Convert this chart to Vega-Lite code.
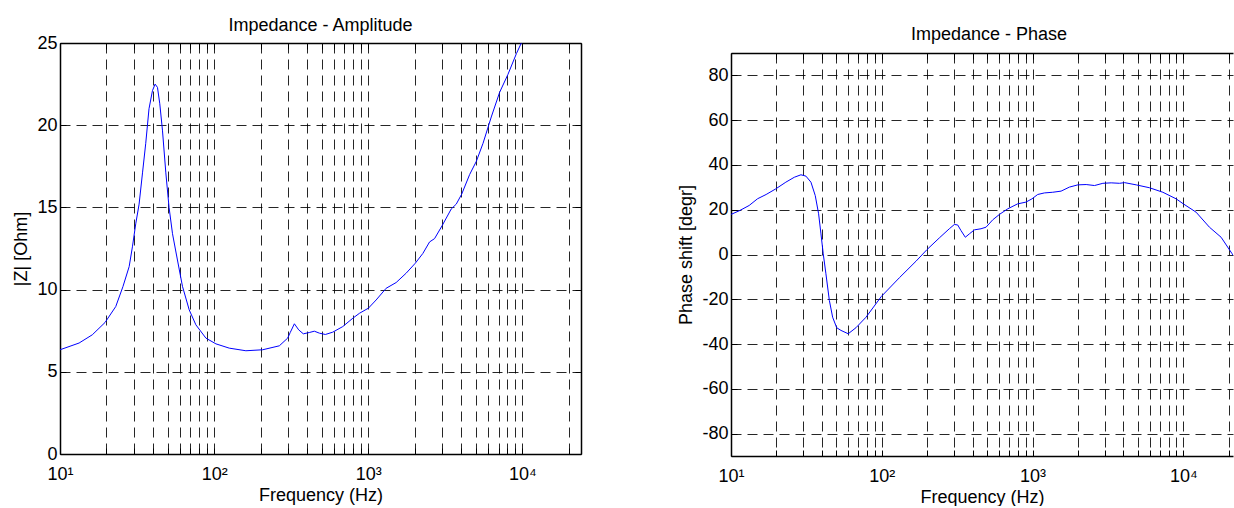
{
  "$schema": "https://vega.github.io/schema/vega-lite/v6.json",
  "padding": {"left": 12, "top": 16, "right": 0, "bottom": 0},
  "spacing": 95,
  "config": {
    "font": "Liberation Sans",
    "view": {"stroke": null},
    "title": {"fontSize": 18, "fontWeight": "normal", "color": "#000", "font": "Liberation Sans"},
    "axis": {
      "domainColor": "#000", "domainWidth": 1.5,
      "tickColor": "#000", "tickSize": -6, "tickWidth": 1,
      "gridColor": "#000", "gridDash": [10, 6], "gridWidth": 1, "gridOpacity": 0.85,
      "labelFont": "Liberation Sans", "labelFontSize": 18, "labelColor": "#000",
      "titleFont": "Liberation Sans", "titleFontSize": 18, "titleFontWeight": "normal", "titleColor": "#000",
      "labelOverlap": false, "labelFlush": false
    }
  },
  "datasets": {
    "amp": [
      {"f": 10, "z": 6.34}, {"f": 13.3, "z": 6.75}, {"f": 16.2, "z": 7.25}, {"f": 19.6, "z": 8.0},
      {"f": 23, "z": 8.97}, {"f": 25.6, "z": 10.18}, {"f": 28.1, "z": 11.4}, {"f": 29.5, "z": 12.6},
      {"f": 31, "z": 14.0}, {"f": 32.6, "z": 15.2}, {"f": 34.3, "z": 17.1}, {"f": 36, "z": 18.9},
      {"f": 37.8, "z": 21.0}, {"f": 39.8, "z": 22.1}, {"f": 41.4, "z": 22.5}, {"f": 42.9, "z": 22.3},
      {"f": 44.4, "z": 21.3}, {"f": 46.2, "z": 19.7}, {"f": 48.6, "z": 17.1}, {"f": 51, "z": 15.0},
      {"f": 53.7, "z": 13.4}, {"f": 57.8, "z": 11.8}, {"f": 62.3, "z": 10.2}, {"f": 68.9, "z": 8.77},
      {"f": 76.1, "z": 7.86}, {"f": 88.4, "z": 7.05}, {"f": 102.7, "z": 6.7}, {"f": 125.3, "z": 6.44},
      {"f": 160.7, "z": 6.28}, {"f": 206.4, "z": 6.34}, {"f": 264.8, "z": 6.58}, {"f": 300, "z": 7.05},
      {"f": 312, "z": 7.4}, {"f": 331.6, "z": 7.92}, {"f": 353.8, "z": 7.55}, {"f": 379, "z": 7.31},
      {"f": 414.8, "z": 7.39}, {"f": 447, "z": 7.47}, {"f": 482, "z": 7.35}, {"f": 527, "z": 7.27},
      {"f": 588, "z": 7.41}, {"f": 683, "z": 7.75}, {"f": 794, "z": 8.26}, {"f": 877, "z": 8.56},
      {"f": 1002, "z": 8.87}, {"f": 1125, "z": 9.37}, {"f": 1306, "z": 10.08}, {"f": 1517, "z": 10.43},
      {"f": 1762, "z": 11.0}, {"f": 2017, "z": 11.6}, {"f": 2261, "z": 12.2}, {"f": 2499, "z": 12.9},
      {"f": 2692, "z": 13.1}, {"f": 3020, "z": 13.9}, {"f": 3452, "z": 14.9}, {"f": 3723, "z": 15.2},
      {"f": 4035, "z": 15.8}, {"f": 4548, "z": 17.0}, {"f": 5024, "z": 17.8}, {"f": 5554, "z": 18.9},
      {"f": 6281, "z": 20.5}, {"f": 7117, "z": 22.0}, {"f": 8066, "z": 23.1}, {"f": 9140, "z": 24.35},
      {"f": 9840, "z": 25.0}, {"f": 10500, "z": 25.8}
    ],
    "phase": [
      {"f": 10, "p": 17.9}, {"f": 11.4, "p": 19.6}, {"f": 13.2, "p": 21.9}, {"f": 15.0, "p": 24.9},
      {"f": 17.1, "p": 26.8}, {"f": 19.8, "p": 29.3}, {"f": 23.1, "p": 32.3}, {"f": 26.3, "p": 34.5},
      {"f": 29.1, "p": 35.6}, {"f": 31.4, "p": 35.0}, {"f": 33.9, "p": 32.3}, {"f": 36.2, "p": 26.3},
      {"f": 38.1, "p": 18.2}, {"f": 39.5, "p": 9.2}, {"f": 40.9, "p": 0.3}, {"f": 42.6, "p": -8.6},
      {"f": 44.9, "p": -20.5}, {"f": 47.2, "p": -28.0}, {"f": 50.2, "p": -32.7}, {"f": 53.6, "p": -33.9},
      {"f": 59.9, "p": -35.4}, {"f": 67.4, "p": -32.7}, {"f": 78.6, "p": -28.0}, {"f": 99.3, "p": -18.75},
      {"f": 130.7, "p": -10.4}, {"f": 168.6, "p": -3.0}, {"f": 199.5, "p": 2.2}, {"f": 240.7, "p": 7.4},
      {"f": 280.4, "p": 11.5}, {"f": 302.8, "p": 13.4}, {"f": 318.6, "p": 13.2}, {"f": 335, "p": 10.7},
      {"f": 358, "p": 7.7}, {"f": 380.6, "p": 9.2}, {"f": 411, "p": 11.0}, {"f": 455, "p": 11.5},
      {"f": 491.4, "p": 12.2}, {"f": 544.3, "p": 15.5}, {"f": 602.6, "p": 17.9}, {"f": 684.6, "p": 20.4},
      {"f": 794.6, "p": 22.6}, {"f": 903.2, "p": 23.4}, {"f": 990, "p": 24.85}, {"f": 1081, "p": 26.8},
      {"f": 1197, "p": 27.5}, {"f": 1360, "p": 27.8}, {"f": 1545, "p": 28.3}, {"f": 1755, "p": 30.1},
      {"f": 1995, "p": 31.1}, {"f": 2266, "p": 31.25}, {"f": 2575, "p": 30.8}, {"f": 2924, "p": 31.8},
      {"f": 3322, "p": 32.0}, {"f": 3771, "p": 31.8}, {"f": 4073, "p": 32.1}, {"f": 4864, "p": 31.1},
      {"f": 5966, "p": 29.8}, {"f": 7310, "p": 27.8}, {"f": 8960, "p": 24.85}, {"f": 10000, "p": 22.6},
      {"f": 12140, "p": 18.9}, {"f": 14880, "p": 12.2}, {"f": 17790, "p": 7.7}, {"f": 21060, "p": 0.3},
      {"f": 22500, "p": -2.5}
    ]
  },
  "hconcat": [
    {
      "width": 521,
      "height": 411,
      "title": {"text": "Impedance - Amplitude", "offset": -5},
      "data": {"name": "amp"},
      "layer": [
        {
          "mark": {"type": "line", "color": "#0000ff", "strokeWidth": 1, "clip": true},
          "encoding": {
            "x": {
              "field": "f", "type": "quantitative",
              "scale": {"type": "log", "domain": [10, 24000], "nice": false},
              "axis": {
                "orient": "bottom", "title": "Frequency (Hz)",
                "values": [10, 20, 30, 40, 50, 60, 70, 80, 90, 100, 200, 300, 400, 500, 600, 700, 800, 900, 1000, 2000, 3000, 4000, 5000, 6000, 7000, 8000, 9000, 10000, 20000],
                "labelExpr": "datum.value == 10 ? '10¹' : datum.value == 100 ? '10²' : datum.value == 1000 ? '10³' : datum.value == 10000 ? '10⁴' : ''",
                "grid": true, "labelPadding": 17, "titlePadding": 3
              }
            },
            "y": {
              "field": "z", "type": "quantitative",
              "scale": {"domain": [0, 25], "nice": false, "zero": false},
              "axis": {
                "orient": "left", "title": "|Z| [Ohm]",
                "values": [0, 5, 10, 15, 20, 25],
                "grid": true, "labelPadding": 9, "titlePadding": 6
              }
            }
          }
        },
        {
          "mark": {"type": "line", "opacity": 0},
          "encoding": {
            "x": {
              "field": "f", "type": "quantitative",
              "axis": {
                "orient": "top", "title": null, "labels": false, "grid": false,
                "values": [10, 20, 30, 40, 50, 60, 70, 80, 90, 100, 200, 300, 400, 500, 600, 700, 800, 900, 1000, 2000, 3000, 4000, 5000, 6000, 7000, 8000, 9000, 10000, 20000]
              }
            },
            "y": {
              "field": "z", "type": "quantitative",
              "axis": {
                "orient": "right", "title": null, "labels": false, "grid": false,
                "values": [0, 5, 10, 15, 20, 25]
              }
            }
          }
        }
      ]
    },
    {
      "spacing": 5,
      "vconcat": [
        {
          "width": 502,
          "height": 1,
          "title": {"text": "Impedance - Phase", "offset": -3, "dx": 7},
          "data": {"values": [{"a": 1}]},
          "mark": {"type": "point", "opacity": 0},
          "encoding": {}
        },
        {
          "width": 502,
          "height": 403,
          "data": {"name": "phase"},
          "layer": [
            {
              "mark": {"type": "line", "color": "#0000ff", "strokeWidth": 1, "clip": true},
              "encoding": {
                "x": {
                  "field": "f", "type": "quantitative",
                  "scale": {"type": "log", "domain": [10, 21330], "nice": false},
                  "axis": {
                    "orient": "bottom", "title": "Frequency (Hz)",
                    "values": [10, 20, 30, 40, 50, 60, 70, 80, 90, 100, 200, 300, 400, 500, 600, 700, 800, 900, 1000, 2000, 3000, 4000, 5000, 6000, 7000, 8000, 9000, 10000, 20000],
                    "labelExpr": "datum.value == 10 ? '10¹' : datum.value == 100 ? '10²' : datum.value == 1000 ? '10³' : datum.value == 10000 ? '10⁴' : ''",
                    "grid": true, "labelPadding": 17, "titlePadding": 3
                  }
                },
                "y": {
                  "field": "p", "type": "quantitative",
                  "scale": {"domain": [-90, 90], "nice": false, "zero": false},
                  "axis": {
                    "orient": "left", "title": "Phase shift [degr]",
                    "values": [-80, -60, -40, -20, 0, 20, 40, 60, 80],
                    "labelExpr": "'' + datum.value",
                    "grid": true, "labelPadding": 9, "titlePadding": 6
                  }
                }
              }
            },
            {
              "mark": {"type": "line", "opacity": 0},
              "encoding": {
                "x": {
                  "field": "f", "type": "quantitative",
                  "axis": {
                    "orient": "top", "title": null, "labels": false, "grid": false,
                    "values": [10, 20, 30, 40, 50, 60, 70, 80, 90, 100, 200, 300, 400, 500, 600, 700, 800, 900, 1000, 2000, 3000, 4000, 5000, 6000, 7000, 8000, 9000, 10000, 20000]
                  }
                }
              }
            }
          ]
        }
      ]
    }
  ]
}
